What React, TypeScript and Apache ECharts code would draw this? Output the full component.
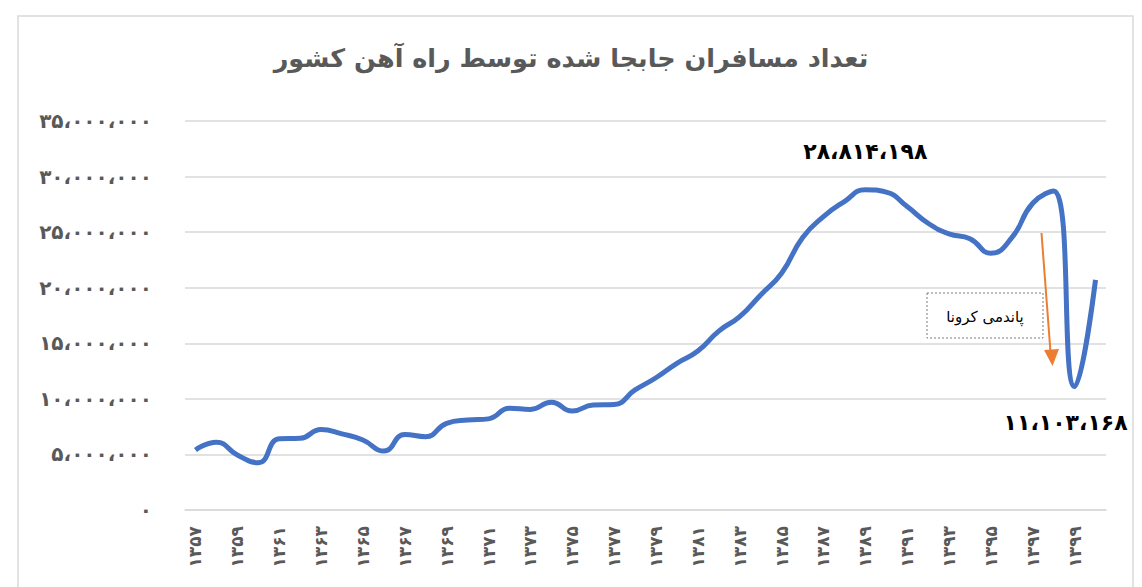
import React, { useEffect, useRef } from "react";
import * as echarts from "echarts";

const years: number[] = [
  1357, 1358, 1359, 1360, 1361, 1362, 1363, 1364, 1365, 1366, 1367, 1368, 1369, 1370, 1371,
  1372, 1373, 1374, 1375, 1376, 1377, 1378, 1379, 1380, 1381, 1382, 1383, 1384, 1385, 1386,
  1387, 1388, 1389, 1390, 1391, 1392, 1393, 1394, 1395, 1396, 1397, 1398, 1399, 1400,
];

const passengers: number[] = [
  5400000, 6100000, 4950000, 4250000, 6400000, 6450000, 7250000, 6850000, 6300000, 5300000,
  6800000, 6600000, 7800000, 8100000, 8200000, 9150000, 9050000, 9700000, 8900000, 9450000,
  9500000, 10800000, 11900000, 13200000, 14300000, 16100000, 17400000, 19350000, 21300000, 24500000,
  26400000, 27750000, 28814198, 28600000, 27300000, 25800000, 24850000, 24400000, 23100000, 24500000,
  27600000, 28700000, 11103168, 20700000,
];

const peakYear = 1389;
const troughYear = 1399;
const titleText = "تعداد مسافران جابجا شده توسط راه آهن کشور";
const noteText = "پاندمی کرونا";

const faDigits = "۰۱۲۳۴۵۶۷۸۹";
const toFa = (s: string) => s.replace(/[0-9]/g, (d) => faDigits[Number(d)]);
const groupFa = (v: number) =>
  toFa(Math.round(v).toString().replace(/\B(?=(\d{3})+(?!\d))/g, "،"));

export default function App() {
  const ref = useRef<HTMLDivElement>(null);

  useEffect(() => {
    if (!ref.current) return;
    const chart = echarts.init(ref.current, undefined, { renderer: "svg" });

    const annLabel = {
      fontSize: 22,
      fontWeight: "bold",
      color: "#000",
      fontFamily: "DejaVu Serif, DejaVu Sans, serif",
    };

    const seriesData = passengers.map((v, i) => {
      const y = years[i];
      if (y === peakYear) {
        return {
          value: v,
          label: {
            show: true,
            position: "top",
            distance: 28,
            formatter: () => groupFa(v),
            ...annLabel,
          },
        };
      }
      if (y === troughYear) {
        return {
          value: v,
          label: {
            show: true,
            position: "bottom",
            distance: 24,
            offset: [-9, 0],
            formatter: () => groupFa(v),
            ...annLabel,
          },
        };
      }
      return v;
    });

    chart.setOption({
      animation: false,
      backgroundColor: "#fff",
      title: {
        text: titleText,
        left: "center",
        top: 40,
        textStyle: {
          fontSize: 25.5,
          fontWeight: "bold",
          color: "#595959",
          fontFamily: "DejaVu Sans, sans-serif",
        },
      },
      grid: { left: 185, right: 36, top: 121, bottom: 77 },
      xAxis: {
        type: "category",
        data: years.map((y) => toFa(String(y))),
        boundaryGap: true,
        axisLine: { lineStyle: { color: "#d9d9d9", width: 1.5 } },
        axisTick: { show: false },
        axisLabel: {
          interval: 1,
          rotate: 90,
          margin: 16,
          color: "#595959",
          fontSize: 17,
          fontWeight: "bold",
          fontFamily: "DejaVu Sans, sans-serif",
        },
      },
      yAxis: {
        type: "value",
        min: 0,
        max: 35000000,
        interval: 5000000,
        axisLine: { show: false },
        axisTick: { show: false },
        splitLine: { lineStyle: { color: "#d9d9d9", width: 1.5 } },
        axisLabel: {
          margin: 33,
          color: "#595959",
          fontSize: 20,
          fontWeight: "bold",
          fontFamily: "DejaVu Serif, DejaVu Sans, serif",
          formatter: (v: number) => groupFa(v),
        },
      },
      series: [
        {
          type: "line",
          data: seriesData,
          smooth: true,
          symbol: "circle",
          symbolSize: 0,
          showSymbol: true,
          lineStyle: { color: "#4472C4", width: 5 },
          itemStyle: { color: "#4472C4" },
          z: 3,
        },
      ],
      graphic: [
        {
          type: "rect",
          shape: { x: 18, y: 16, width: 1115, height: 600 },
          style: { fill: "none", stroke: "#d9d9d9", lineWidth: 1.5 },
          silent: true,
        },
        {
          type: "rect",
          shape: { x: 927, y: 293, width: 116, height: 45 },
          style: { fill: "#fff", stroke: "#7f7f7f", lineWidth: 1, lineDash: [2, 2] },
          z: 10,
        },
        {
          type: "text",
          x: 985,
          y: 317,
          style: {
            text: noteText,
            fontSize: 15,
            fill: "#000",
            align: "center",
            verticalAlign: "middle",
            fontFamily: "DejaVu Sans, sans-serif",
          },
          z: 11,
        },
        {
          type: "line",
          shape: { x1: 1041.5, y1: 233, x2: 1050.5, y2: 352 },
          style: { stroke: "#ED7D31", lineWidth: 2 },
          z: 10,
        },
        {
          type: "polygon",
          shape: { points: [[1044, 350], [1059, 349], [1052.5, 366]] },
          style: { fill: "#ED7D31" },
          z: 10,
        },
      ],
    });

    return () => chart.dispose();
  }, []);

  return (
    <div
      ref={ref}
      style={{ position: "fixed", left: 0, top: 0, width: 1142, height: 587 }}
    />
  );
}
